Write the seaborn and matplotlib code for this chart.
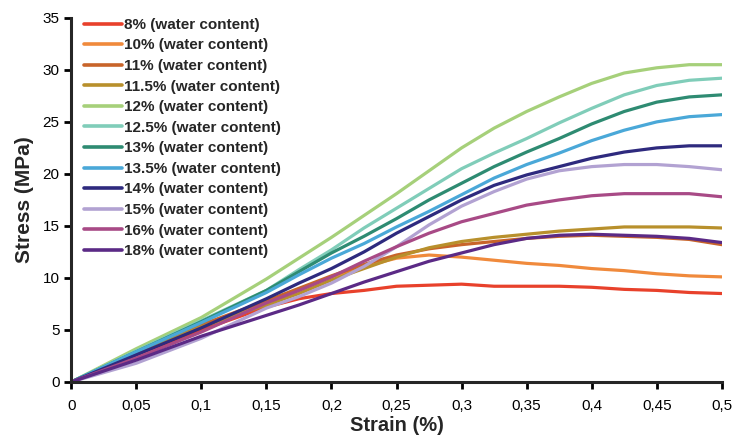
import numpy as np
import pandas as pd
import matplotlib
matplotlib.use("Agg")
import matplotlib.pyplot as plt
from matplotlib.ticker import FuncFormatter, MultipleLocator
import seaborn as sns

strain = [0, 0.05, 0.1, 0.15, 0.175, 0.2, 0.225, 0.25, 0.275, 0.3,
          0.325, 0.35, 0.375, 0.4, 0.425, 0.45, 0.475, 0.5]

s8 = [0, 2.6, 5.0, 7.2, 8.0, 8.5, 8.8, 9.2, 9.3, 9.4, 9.2, 9.2, 9.2, 9.1, 8.9, 8.8, 8.6, 8.5]
s10 = [0, 2.7, 5.3, 7.6, 8.8, 10.1, 11.1, 11.9, 12.2, 12.0, 11.7, 11.4, 11.2, 10.9, 10.7, 10.4, 10.2, 10.1]
s11 = [0, 2.8, 5.5, 7.8, 9.0, 10.2, 11.3, 12.2, 12.8, 13.2, 13.5, 13.8, 14.0, 14.1, 14.0, 13.9, 13.7, 13.2]
s11_5 = [0, 2.7, 5.3, 7.4, 8.5, 9.8, 10.9, 12.0, 12.9, 13.5, 13.9, 14.2, 14.5, 14.7, 14.9, 14.9, 14.9, 14.8]
s12 = [0, 3.2, 6.2, 9.9, 11.9, 13.9, 16.0, 18.1, 20.3, 22.5, 24.4, 26.0, 27.4, 28.7, 29.7, 30.2, 30.5, 30.5]
s12_5 = [0, 3.0, 5.9, 8.8, 10.8, 12.7, 14.8, 16.7, 18.6, 20.5, 22.0, 23.4, 24.9, 26.3, 27.6, 28.5, 29.0, 29.2]
s13 = [0, 2.9, 5.8, 8.8, 10.6, 12.4, 14.0, 15.7, 17.5, 19.1, 20.7, 22.1, 23.4, 24.8, 26.0, 26.9, 27.4, 27.6]
s13_5 = [0, 2.9, 5.7, 8.6, 10.3, 11.9, 13.3, 14.9, 16.4, 18.0, 19.6, 20.9, 22.0, 23.2, 24.2, 25.0, 25.5, 25.7]
s14 = [0, 2.6, 5.2, 8.0, 9.5, 10.9, 12.5, 14.3, 15.9, 17.5, 18.9, 19.9, 20.7, 21.5, 22.1, 22.5, 22.7, 22.7]
s15 = [0, 1.8, 4.2, 7.1, 8.2, 9.5, 11.1, 13.0, 15.1, 16.9, 18.3, 19.5, 20.3, 20.7, 20.9, 20.9, 20.7, 20.4]
s16 = [0, 2.3, 4.8, 7.6, 8.8, 10.1, 11.6, 13.0, 14.3, 15.4, 16.2, 17.0, 17.5, 17.9, 18.1, 18.1, 18.1, 17.8]
s18 = [0, 2.1, 4.4, 6.4, 7.4, 8.5, 9.6, 10.6, 11.6, 12.4, 13.2, 13.8, 14.1, 14.2, 14.1, 14.0, 13.8, 13.4]

labels = ["8% (water content)", "10% (water content)", "11% (water content)",
          "11.5% (water content)", "12% (water content)", "12.5% (water content)",
          "13% (water content)", "13.5% (water content)", "14% (water content)",
          "15% (water content)", "16% (water content)", "18% (water content)"]
series = [s8, s10, s11, s11_5, s12, s12_5, s13, s13_5, s14, s15, s16, s18]
colors = ["#e8412b", "#f08a3c", "#c8642a", "#b8902c", "#a6d07a", "#80cdb9",
          "#2e8b72", "#4aa8d8", "#2e2a7e", "#b2a2d2", "#a84a86", "#5b2a86"]

df = pd.concat([pd.DataFrame({"strain": strain, "stress": s, "water": lab})
                for lab, s in zip(labels, series)], ignore_index=True)

sns.set_style("ticks")
plt.rcParams["font.family"] = ["Liberation Sans", "DejaVu Sans"]

fig, ax = plt.subplots(figsize=(7.35, 4.36), dpi=100)
fig.subplots_adjust(left=0.097, right=0.982, top=0.959, bottom=0.124)

sns.lineplot(data=df, x="strain", y="stress", hue="water", hue_order=labels,
             palette=colors, linewidth=2.3, ax=ax, legend=True)

ax.set_xlim(0, 0.5)
ax.set_ylim(0, 35)
ax.xaxis.set_major_locator(MultipleLocator(0.05))
ax.yaxis.set_major_locator(MultipleLocator(5))
ax.xaxis.set_major_formatter(FuncFormatter(lambda v, p: f"{round(v, 2):g}".replace(".", ",")))
sns.despine(ax=ax)
for sp in ["left", "bottom"]:
    ax.spines[sp].set_linewidth(2.2)
ax.tick_params(direction="out", length=5, width=2, labelsize=11, colors="black")
ax.tick_params(axis="x", pad=7)
ax.set_xlabel("Strain (%)", fontsize=14.5, fontweight="bold", labelpad=2.5)
ax.set_ylabel("Stress (MPa)", fontsize=15, fontweight="bold", labelpad=6)

ax.legend(loc="upper left", bbox_to_anchor=(0.02, 1.0), frameon=False,
          prop={"weight": "bold", "size": 11}, handlelength=2.5,
          handletextpad=0.12, labelspacing=0.43, borderpad=0, borderaxespad=0)
for line in ax.get_legend().get_lines():
    line.set_linewidth(2.6)

fig.savefig("out.png", dpi=100)
